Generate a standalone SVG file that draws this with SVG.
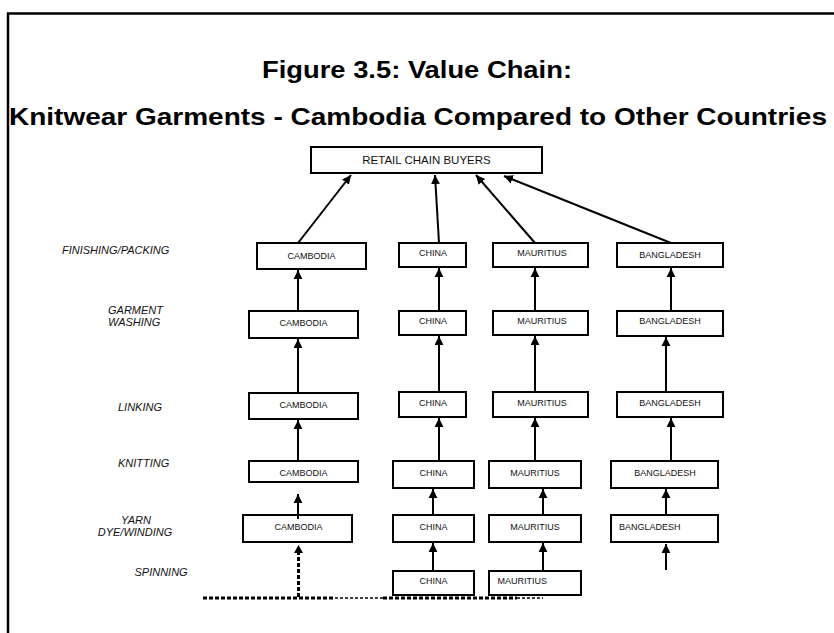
<svg xmlns="http://www.w3.org/2000/svg" width="834" height="633" viewBox="0 0 834 633">
  <defs>
    <marker id="ah" markerUnits="userSpaceOnUse" markerWidth="10" markerHeight="10" viewBox="0 0 10 10" refX="9" refY="5" orient="auto">
      <path d="M0,0.6 L9,5 L0,9.4 Z" fill="#000"/>
    </marker>
    <style>
      .box { fill: #fff; stroke: #000; stroke-width: 2; }
      .lbl { font-family: "Liberation Sans", Arial, sans-serif; font-size: 9px; fill: #111; text-anchor: middle; }
      .lbl-l { text-anchor: start; }
      .stage { font-family: "Liberation Sans", Arial, sans-serif; font-size: 11px; font-style: italic; fill: #111; }
      .title { font-family: "Liberation Sans", Arial, sans-serif; font-weight: bold; font-size: 23px; fill: #000; text-anchor: middle; }
      .arr { stroke: #000; stroke-width: 2; fill: none; marker-end: url(#ah); }
      .dash { stroke: #000; stroke-width: 3; fill: none; stroke-dasharray: 4 2; }
      .dash-thin { stroke: #000; stroke-width: 1.5; fill: none; stroke-dasharray: 3 2; }
    </style>
  </defs>

  <rect width="834" height="633" fill="#fff"/>

  <!-- outer frame -->
  <path d="M8,633 L8,13.5 L834,13.5" fill="none" stroke="#000" stroke-width="2.5"/>

  <!-- titles -->
  <text class="title" x="417" y="78" textLength="310" lengthAdjust="spacingAndGlyphs">Figure 3.5: Value Chain:</text>
  <text class="title" x="418" y="125" textLength="818" lengthAdjust="spacingAndGlyphs">Knitwear Garments - Cambodia Compared to Other Countries</text>

  <!-- stage labels -->
  <g id="stages">
    <text class="stage" x="62" y="254">FINISHING/PACKING</text>
    <text class="stage" x="108" y="314">GARMENT</text>
    <text class="stage" x="108" y="325.5">WASHING</text>
    <text class="stage" x="118" y="410.5">LINKING</text>
    <text class="stage" x="118" y="467">KNITTING</text>
    <text class="stage" x="136" y="524" text-anchor="middle">YARN</text>
    <text class="stage" x="135" y="535.5" text-anchor="middle">DYE/WINDING</text>
    <text class="stage" x="134.5" y="575.5">SPINNING</text>
  </g>

  <!-- top node -->
  <g id="retail">
    <rect class="box" x="311" y="147" width="231" height="26"/>
    <text class="lbl" x="426.5" y="164" style="font-size:11.5px">RETAIL CHAIN BUYERS</text>
  </g>

  <!-- finishing / packing -->
  <g id="fin-cambodia"><rect class="box" x="257" y="243" width="109" height="26"/><text class="lbl" x="311.5" y="258.5">CAMBODIA</text></g>
  <g id="fin-china"><rect class="box" x="399" y="243" width="67" height="24"/><text class="lbl" x="433" y="256">CHINA</text></g>
  <g id="fin-mauritius"><rect class="box" x="493" y="243" width="95" height="24"/><text class="lbl" x="542" y="256">MAURITIUS</text></g>
  <g id="fin-bangladesh"><rect class="box" x="617" y="243" width="106" height="24"/><text class="lbl" x="670" y="258">BANGLADESH</text></g>

  <!-- garment washing -->
  <g id="wash-cambodia"><rect class="box" x="249" y="311" width="109" height="27"/><text class="lbl" x="303.5" y="326">CAMBODIA</text></g>
  <g id="wash-china"><rect class="box" x="399" y="311" width="67" height="24"/><text class="lbl" x="433" y="324">CHINA</text></g>
  <g id="wash-mauritius"><rect class="box" x="493" y="311" width="95" height="24"/><text class="lbl" x="542" y="324">MAURITIUS</text></g>
  <g id="wash-bangladesh"><rect class="box" x="617" y="311" width="106" height="25"/><text class="lbl" x="670" y="324">BANGLADESH</text></g>

  <!-- linking -->
  <g id="link-cambodia"><rect class="box" x="249" y="393" width="109" height="26"/><text class="lbl" x="303.5" y="408">CAMBODIA</text></g>
  <g id="link-china"><rect class="box" x="399" y="392" width="67" height="25"/><text class="lbl" x="433" y="406">CHINA</text></g>
  <g id="link-mauritius"><rect class="box" x="493" y="392" width="95" height="25"/><text class="lbl" x="542" y="406">MAURITIUS</text></g>
  <g id="link-bangladesh"><rect class="box" x="617" y="392" width="106" height="25"/><text class="lbl" x="670" y="406">BANGLADESH</text></g>

  <!-- knitting -->
  <g id="knit-cambodia"><rect class="box" x="249" y="461" width="109" height="21"/><text class="lbl" x="303.5" y="476">CAMBODIA</text></g>
  <g id="knit-china"><rect class="box" x="393" y="461" width="81" height="27"/><text class="lbl" x="433.5" y="476">CHINA</text></g>
  <g id="knit-mauritius"><rect class="box" x="489" y="461" width="92" height="27"/><text class="lbl" x="535" y="476">MAURITIUS</text></g>
  <g id="knit-bangladesh"><rect class="box" x="611" y="461" width="107" height="27"/><text class="lbl" x="665" y="476">BANGLADESH</text></g>

  <!-- yarn dye / winding -->
  <g id="yarn-cambodia"><rect class="box" x="243" y="515" width="109" height="27"/><text class="lbl" x="298.5" y="530">CAMBODIA</text></g>
  <g id="yarn-china"><rect class="box" x="393" y="515" width="81" height="27"/><text class="lbl" x="433.5" y="530">CHINA</text></g>
  <g id="yarn-mauritius"><rect class="box" x="489" y="515" width="92" height="27"/><text class="lbl" x="535" y="530">MAURITIUS</text></g>
  <g id="yarn-bangladesh"><rect class="box" x="611" y="515" width="107" height="27"/><text class="lbl lbl-l" x="619" y="530">BANGLADESH</text></g>

  <!-- spinning -->
  <g id="spin-china"><rect class="box" x="393" y="571" width="81" height="24"/><text class="lbl" x="433.5" y="584">CHINA</text></g>
  <g id="spin-mauritius"><rect class="box" x="489" y="571" width="92" height="24"/><text class="lbl lbl-l" x="497.5" y="584">MAURITIUS</text></g>

  <!-- connectors -->
  <g id="connectors">
    <!-- into retail chain buyers -->
    <line class="arr" x1="298" y1="243" x2="351" y2="175"/>
    <line class="arr" x1="439" y1="243" x2="435" y2="175"/>
    <line class="arr" x1="535" y1="243" x2="476" y2="175"/>
    <line class="arr" x1="671" y1="243" x2="504" y2="176"/>

    <!-- washing to finishing -->
    <line class="arr" x1="298" y1="311" x2="298" y2="270"/>
    <line class="arr" x1="439" y1="311" x2="439" y2="268"/>
    <line class="arr" x1="535" y1="311" x2="535" y2="268"/>
    <line class="arr" x1="671" y1="311" x2="671" y2="268"/>

    <!-- linking to washing -->
    <line class="arr" x1="298" y1="393" x2="298" y2="339"/>
    <line class="arr" x1="439" y1="392" x2="439" y2="336"/>
    <line class="arr" x1="535" y1="392" x2="535" y2="336"/>
    <line class="arr" x1="666" y1="392" x2="666" y2="337"/>

    <!-- knitting to linking -->
    <line class="arr" x1="298" y1="461" x2="298" y2="420"/>
    <line class="arr" x1="439" y1="461" x2="439" y2="418"/>
    <line class="arr" x1="535" y1="461" x2="535" y2="418"/>
    <line class="arr" x1="671" y1="461" x2="671" y2="418"/>

    <!-- yarn to knitting -->
    <line class="arr" x1="298" y1="519" x2="298" y2="494"/>
    <line class="arr" x1="433" y1="515" x2="433" y2="489"/>
    <line class="arr" x1="543" y1="515" x2="543" y2="489"/>
    <line class="arr" x1="666" y1="515" x2="666" y2="489"/>

    <!-- spinning to yarn -->
    <line class="arr" x1="433" y1="571" x2="433" y2="543"/>
    <line class="arr" x1="543" y1="571" x2="543" y2="543"/>
    <line class="arr" x1="666" y1="570" x2="666" y2="544"/>

    <!-- imported yarn supply (dashed) -->
    <line class="dash" x1="298.5" y1="597" x2="298.5" y2="553"/>
    <path d="M294,553 L303,553 L298.5,545 Z" fill="#000"/>
    <line class="dash" x1="203" y1="598" x2="335" y2="598"/>
    <line class="dash-thin" x1="335" y1="598" x2="383" y2="598"/>
    <line class="dash" x1="383" y1="598" x2="517" y2="598"/>
    <line class="dash-thin" x1="517" y1="598" x2="543" y2="598"/>
  </g>
</svg>
